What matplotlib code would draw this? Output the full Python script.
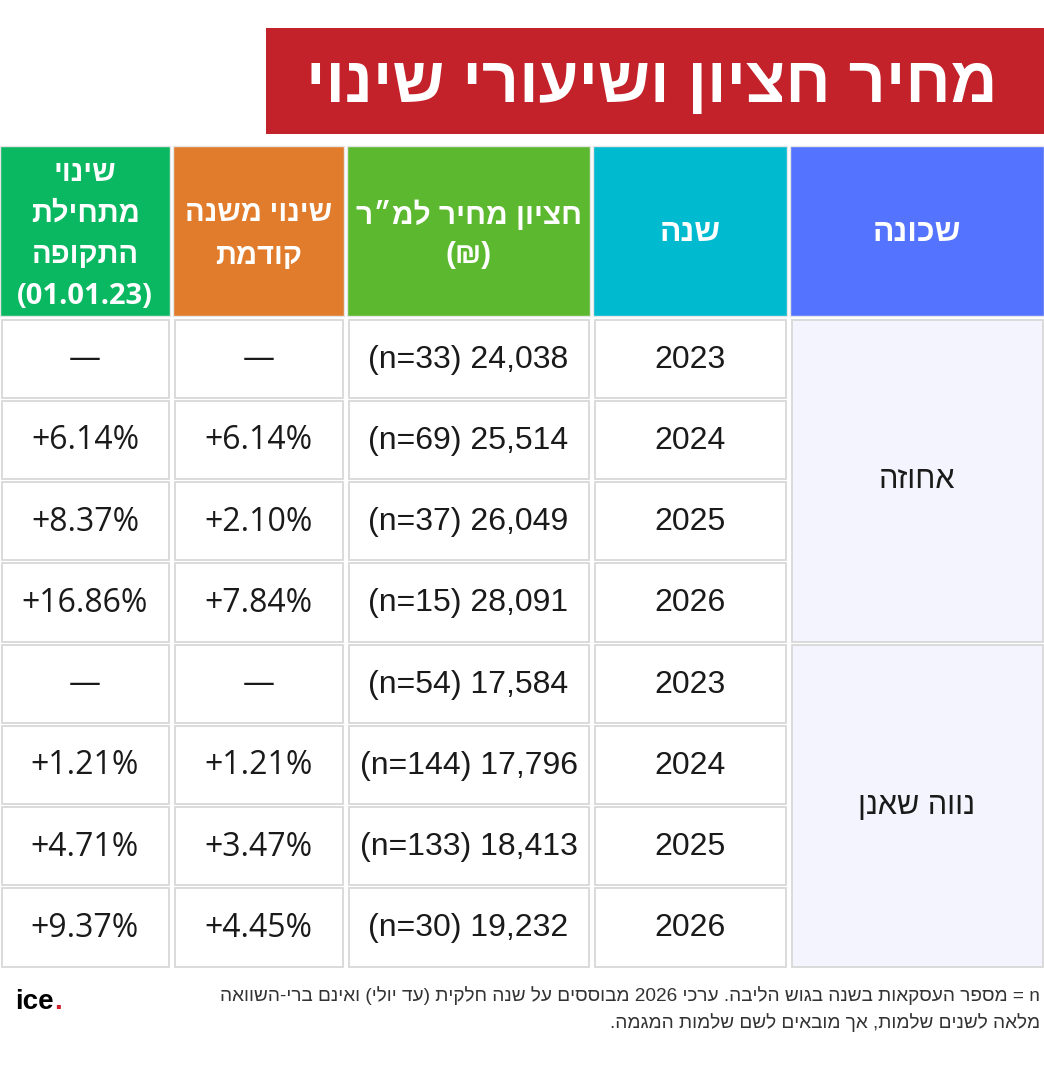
import re
import matplotlib
matplotlib.use("Agg")
import matplotlib.pyplot as plt
from matplotlib.patches import Rectangle

# ---------------- data ----------------
TITLE = "מחיר חציון ושיעורי שינוי"
HEADERS = ["שינוי\nמתחילת\nהתקופה\n(01.01.23)", "שינוי משנה\nקודמת",
           "חציון מחיר למ״ר\n(₪)", "שנה", "שכונה"]
NEIGHBORHOODS = ["אחוזה", "נווה שאנן"]
YEARS = [2023, 2024, 2025, 2026]
MEDIAN_PRICE = [[24038, 25514, 26049, 28091], [17584, 17796, 18413, 19232]]
N_DEALS = [[33, 69, 37, 15], [54, 144, 133, 30]]
YOY_CHANGE = [[None, 6.14, 2.10, 7.84], [None, 1.21, 3.47, 4.45]]
CUM_CHANGE = [[None, 6.14, 8.37, 16.86], [None, 1.21, 4.71, 9.37]]
FOOTNOTE = ["n = מספר העסקאות בשנה בגוש הליבה. ערכי 2026 מבוססים על שנה חלקית (עד יולי) ואינם ברי-השוואה",
            "מלאה לשנים שלמות, אך מובאים לשם שלמות המגמה."]

HEADER_COLORS = ["#0bb862", "#e07c2c", "#5cb82e", "#00bacf", "#5473fe"]
TITLE_COLOR = "#c4222a"

# ---------------- helpers ----------------
MIRROR = {"(": ")", ")": "(", "[": "]", "]": "["}


def rtl_line(s):
    tokens = re.findall(r"[A-Za-z0-9][A-Za-z0-9.,=%+]*|[^A-Za-z0-9]", s)
    return "".join(MIRROR.get(t, t) for t in tokens[::-1])


def rtl(s):
    return "\n".join(rtl_line(l) for l in s.split("\n"))


NARROW = ["Liberation Sans Narrow", "Liberation Sans", "DejaVu Sans"]
WIDE = ["Open Sans", "Liberation Sans", "DejaVu Sans"]

W, H = 1044, 1075
fig = plt.figure(figsize=(W / 100, H / 100), dpi=100)
ax = fig.add_axes([0, 0, 1, 1])
ax.set_xlim(0, W)
ax.set_ylim(H, 0)
ax.axis("off")
renderer = fig.canvas.get_renderer()


def fit_width(t, target):
    bb = t.get_window_extent(renderer)
    t.set_fontsize(t.get_fontsize() * target / bb.width)


# ---------------- title ----------------
ax.add_patch(Rectangle((266, 28), W - 266, 106, facecolor=TITLE_COLOR, edgecolor="none"))
tt = ax.text(652, 85, rtl(TITLE), ha="center", va="center", color="white",
             fontsize=44, fontweight="bold", family=NARROW)
fit_width(tt, 692)

# ---------------- table ----------------
COLS = [(0, 170), (173, 344), (347, 590), (593, 787), (790, W)]
HEAD_Y0, HEAD_Y1 = 146, 316
BODY_Y0, BODY_Y1 = 318, 968
nrows = len(NEIGHBORHOODS) * len(YEARS)
rh = (BODY_Y1 - BODY_Y0) / nrows

HEAD_SIZES = [21, 21, 21.5, 23, 23]
HEAD_SPACING = [1.55, 1.6, 1.5, 1.4, 1.4]
HEAD_DY = [4, 4, 3, 2, 2]
for i, ((x0, x1), col) in enumerate(zip(COLS, HEADER_COLORS)):
    ax.add_patch(Rectangle((x0, HEAD_Y0), x1 - x0, HEAD_Y1 - HEAD_Y0,
                           facecolor=col, edgecolor="#e6e6e6", lw=1))
    fam = WIDE if i < 2 else NARROW
    ax.text((x0 + x1) / 2, (HEAD_Y0 + HEAD_Y1) / 2 + HEAD_DY[i], rtl(HEADERS[i]),
            ha="center", va="center", multialignment="center", color="white",
            fontsize=HEAD_SIZES[i], fontweight="bold", family=fam,
            linespacing=HEAD_SPACING[i])


def fmt_pct(v):
    return "—" if v is None else f"+{v:.2f}%"


def cell(x0, x1, y0, y1, fc="white"):
    ax.add_patch(Rectangle((x0 + 1.5, y0 + 1.5), x1 - x0 - 3, y1 - y0 - 3,
                           facecolor=fc, edgecolor="#d8d8d8", lw=1.3))


for g, name in enumerate(NEIGHBORHOODS):
    gy0 = BODY_Y0 + g * len(YEARS) * rh
    gy1 = gy0 + len(YEARS) * rh
    x0, x1 = COLS[4]
    cell(x0, x1, gy0, gy1, fc="#f3f4fd")
    ax.text((x0 + x1) / 2, (gy0 + gy1) / 2, rtl(name), ha="center", va="center",
            fontsize=22, color="#1a1a1a", family=NARROW)
    for r, yr in enumerate(YEARS):
        y0 = gy0 + r * rh
        y1 = y0 + rh
        yc = (y0 + y1) / 2
        values = [fmt_pct(CUM_CHANGE[g][r]), fmt_pct(YOY_CHANGE[g][r]),
                  f"(n={N_DEALS[g][r]}) {MEDIAN_PRICE[g][r]:,}", str(yr)]
        for c in range(4):
            cx0, cx1 = COLS[c]
            cell(cx0, cx1, y0, y1)
            fam = WIDE if c < 2 else NARROW
            ax.text((cx0 + cx1) / 2, yc + 1, values[c], ha="center", va="center",
                    fontsize=23, color="#1a1a1a", family=fam)

# ---------------- footnote & logo ----------------
f1 = ax.text(1040, 996, rtl(FOOTNOTE[0]), ha="right", va="center",
             fontsize=14, color="#333333", family=NARROW)
fit_width(f1, 822)
ax.text(1040, 1023, rtl(FOOTNOTE[1]), ha="right", va="center",
        fontsize=f1.get_fontsize(), color="#333333", family=NARROW)

logo = ax.text(15, 1009, "ice", ha="left", va="baseline", fontsize=20,
               fontweight="bold", color="black", family=NARROW)
lb = logo.get_window_extent(renderer)
ax.text(15 + lb.width, 1009, ".", ha="left", va="baseline", fontsize=20,
        fontweight="bold", color="#d0202a", family=NARROW)

fig.savefig("out.png", dpi=100, facecolor="white")
